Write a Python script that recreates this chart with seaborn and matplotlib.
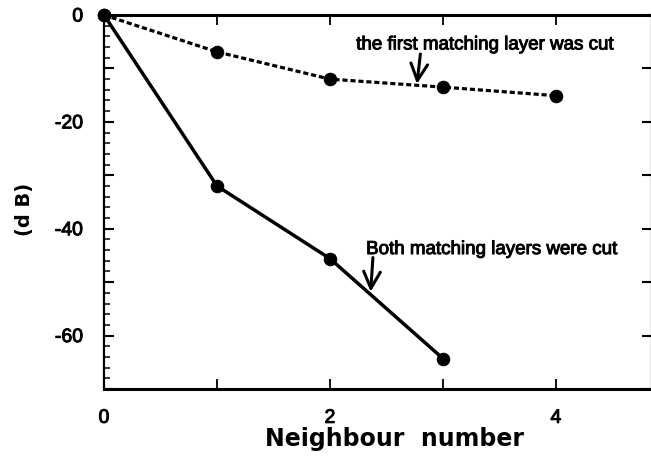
import matplotlib
matplotlib.use("Agg")
import matplotlib.pyplot as plt
import matplotlib.patheffects as pe
import seaborn as sns
import pandas as pd
from matplotlib.ticker import MultipleLocator, FixedLocator

# Crosstalk level versus neighbour element number
first_neighbours = [0, 1, 2, 3, 4]
first_cut_db = [0.0, -6.9, -12.0, -13.5, -15.1]

both_neighbours = [0, 1, 2, 3]
both_cut_db = [0.0, -32.0, -45.6, -64.3]

x_ticks = [0, 1, 2, 3, 4]
x_tick_labels = ["0", "", "2", "", "4"]
y_major = [0, -10, -20, -30, -40, -50, -60, -70]
y_tick_labels = ["0", "", "-20", "", "-40", "", "-60", ""]

first_label = "the first matching layer was cut"
both_label = "Both matching layers were cut"

sns.set_theme(style="ticks")
plt.rcParams["font.family"] = ["Liberation Sans", "DejaVu Sans"]
plt.rcParams["text.color"] = "black"
plt.rcParams["axes.labelcolor"] = "black"

# slightly heavier strokes for all lettering
heavy = [pe.withStroke(linewidth=0.7, foreground="black")]

fig = plt.figure(figsize=(6.51, 4.68), dpi=100)
ax = fig.add_axes([104 / 651, 1 - 389 / 468, 548 / 651, 374 / 468])

first_df = pd.DataFrame({"n": first_neighbours, "db": first_cut_db})
both_df = pd.DataFrame({"n": both_neighbours, "db": both_cut_db})

sns.lineplot(data=first_df, x="n", y="db", ax=ax, color="black",
             linewidth=2.3, linestyle=(0, (1.6, 0.9)), marker="o",
             markersize=9, markeredgecolor="black", clip_on=False)
sns.lineplot(data=both_df, x="n", y="db", ax=ax, color="black",
             linewidth=2.5, marker="o", markersize=9,
             markeredgecolor="black", clip_on=False)

ax.set_xlim(0, 4.85)
ax.set_ylim(-70, 0)

ax.xaxis.set_major_locator(FixedLocator(x_ticks))
ax.set_xticklabels(x_tick_labels)
ax.yaxis.set_major_locator(FixedLocator(y_major))
ax.set_yticklabels(y_tick_labels)
ax.yaxis.set_minor_locator(MultipleLocator(2))

ax.tick_params(axis="x", which="major", direction="in", length=7, width=1.3,
               top=True, bottom=True, labelsize=14, pad=15, colors="black")
ax.tick_params(axis="y", which="major", direction="in", length=7, width=1.5,
               left=True, right=True, labelsize=14, pad=15, colors="black")
ax.tick_params(axis="y", which="minor", direction="in", length=4, width=1.3,
               left=True, right=False)

for lbl in ax.get_xticklabels() + ax.get_yticklabels():
    lbl.set_path_effects(heavy)

for side, lw in [("top", 2.2), ("bottom", 2.2), ("left", 1.6), ("right", 1.6)]:
    ax.spines[side].set_linewidth(lw)
    ax.spines[side].set_color("black")
ax.spines["right"].set_visible(True)
ax.spines["top"].set_visible(True)

ax.set_xlabel("Neighbour  number", fontsize=17, fontweight="bold",
              family="DejaVu Sans", color="black")
ax.xaxis.set_label_coords(0.531, -0.102)
ax.set_ylabel("(d B)", fontsize=14, fontweight="bold", family="DejaVu Sans",
              color="black")
ax.yaxis.set_label_coords(-0.127, 0.48)

arrow = dict(arrowstyle="->,head_length=1.0,head_width=0.5", color="black",
             linewidth=2.2, shrinkA=0, shrinkB=0)
ax.annotate("", xy=(2.77, -12.9), xytext=(2.80, -7.3), arrowprops=arrow)
ax.text(3.37, -5.6, first_label, ha="center", va="center", fontsize=13.5,
        color="black", path_effects=heavy)
ax.annotate("", xy=(2.36, -51.8), xytext=(2.38, -45.4), arrowprops=arrow)
ax.text(3.43, -43.9, both_label, ha="center", va="center", fontsize=13.5,
        color="black", path_effects=heavy)

fig.savefig("out.png", dpi=100)
